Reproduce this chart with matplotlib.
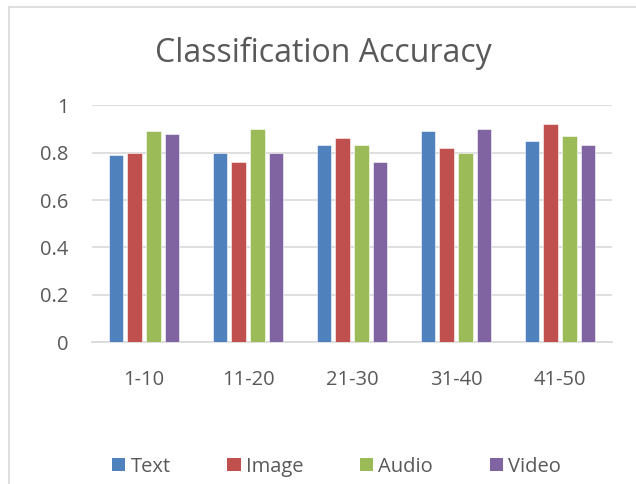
import numpy as np
import matplotlib
matplotlib.use("Agg")
import matplotlib.pyplot as plt
from matplotlib.patches import Patch
from matplotlib.lines import Line2D

# ======================
# DATA
# ======================
categories = ["1-10", "11-20", "21-30", "31-40", "41-50"]
series_names = ["Text", "Image", "Audio", "Video"]
text_vals = [0.79, 0.80, 0.83, 0.89, 0.85]
image_vals = [0.80, 0.76, 0.86, 0.82, 0.92]
audio_vals = [0.89, 0.90, 0.83, 0.80, 0.87]
video_vals = [0.88, 0.80, 0.76, 0.90, 0.83]
y_ticks = [0, 0.2, 0.4, 0.6, 0.8, 1]
y_tick_labels = ["0", "0.2", "0.4", "0.6", "0.8", "1"]

colors = ["#4F81BD", "#C0504D", "#9BBB59", "#8064A2"]
FONT = ["Open Sans", "DejaVu Sans"]
TXT = "#595959"

plt.rcParams["font.family"] = FONT

fig = plt.figure(figsize=(6.36, 4.84), dpi=100)
ax = fig.add_axes([0.1447, 0.2924, 0.8176, 0.4906])

x = np.arange(len(categories))
step = 0.18
width = 0.141
all_vals = [text_vals, image_vals, audio_vals, video_vals]
for i, (vals, name, col) in enumerate(zip(all_vals, series_names, colors)):
    ax.bar(x + (i - 1.5) * step, vals, width=width, color=col,
           edgecolor="white", linewidth=0.4, label=name, zorder=3)

ax.set_xlim(-0.5, len(categories) - 0.5)
ax.set_ylim(0, 1)
ax.set_yticks(y_ticks)
ax.set_yticklabels(y_tick_labels)
ax.set_xticks(x)
ax.set_xticklabels(categories)
ax.tick_params(axis="both", length=0, colors=TXT, labelsize=14.5)
ax.tick_params(axis="y", pad=17)
ax.tick_params(axis="x", pad=20)
ax.grid(axis="y", color="#D9D9D9", linewidth=1.2, zorder=0)
ax.set_axisbelow(True)
for s in ["top", "right", "left"]:
    ax.spines[s].set_visible(False)
ax.spines["bottom"].set_color("#D9D9D9")
ax.spines["bottom"].set_linewidth(1.2)

fig.text(0.509, 1 - 62 / 484, "Classification Accuracy", ha="center",
         va="baseline", fontsize=23, color=TXT)

handles = [Patch(facecolor=c, edgecolor="none") for c in colors]
fig.legend(handles, series_names, loc="center", bbox_to_anchor=(0.529, 0.036),
           ncol=4, frameon=False, fontsize=14.5, labelcolor=TXT,
           handlelength=0.68, handleheight=0.68, handletextpad=0.25,
           columnspacing=2.8)

# chart border (top and left edges visible)
fig.add_artist(Line2D([8.5 / 636, 8.5 / 636], [0, 1 - 6.5 / 484],
                      color="#D9D9D9", linewidth=1.2))
fig.add_artist(Line2D([8.5 / 636, 1], [1 - 6.5 / 484, 1 - 6.5 / 484],
                      color="#D9D9D9", linewidth=1.2))

fig.savefig("out.png", dpi=100)
